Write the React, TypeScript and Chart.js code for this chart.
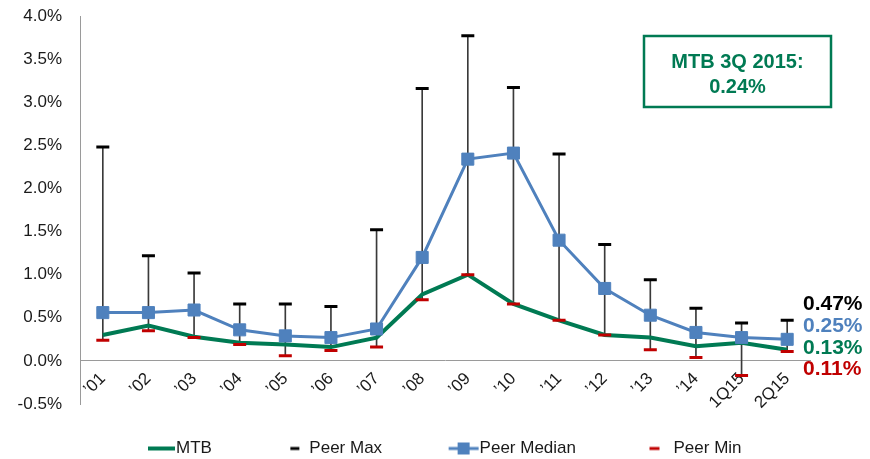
import React, { useEffect, useRef } from "react";
import { Chart, registerables } from "chart.js";

Chart.register(...registerables);

const categories = ["’01", "’02", "’03", "’04", "’05", "’06", "’07", "’08", "’09", "’10", "’11", "’12", "’13", "’14", "1Q15", "2Q15"];
const mtb = [0.30, 0.41, 0.28, 0.21, 0.19, 0.16, 0.27, 0.77, 1.00, 0.66, 0.47, 0.30, 0.27, 0.17, 0.21, 0.13];
const peerMax = [2.48, 1.22, 1.02, 0.66, 0.66, 0.63, 1.52, 3.16, 3.77, 3.17, 2.40, 1.35, 0.94, 0.61, 0.44, 0.47];
const peerMedian = [0.56, 0.56, 0.59, 0.36, 0.29, 0.27, 0.37, 1.20, 2.34, 2.41, 1.40, 0.84, 0.53, 0.33, 0.27, 0.25];
const peerMin = [0.24, 0.35, 0.27, 0.19, 0.06, 0.12, 0.16, 0.71, 1.00, 0.66, 0.47, 0.30, 0.13, 0.04, -0.17, 0.11];
const yMin = -0.5;
const yMax = 4.0;
const yStep = 0.5;
const calloutLines = ["MTB 3Q 2015:", "0.24%"];

const GREEN = "#007A53";
const BLUE = "#4F81BD";
const RED = "#C00000";
const BLACK = "#000000";
const AXIS = "#9a9a9a";
const TEXT = "#1a1a1a";
const FONT = "'Liberation Sans', Arial, Helvetica, sans-serif";

const LEGEND_FONT = 17;
const LEGEND_BOX = 53;

function makeIcon(draw: (ctx: CanvasRenderingContext2D, w: number, h: number) => void) {
  const c = document.createElement("canvas");
  c.width = LEGEND_BOX + LEGEND_FONT;
  c.height = 20;
  const ctx = c.getContext("2d")!;
  draw(ctx, c.width, c.height);
  return c;
}

export default function App() {
  const ref = useRef<HTMLCanvasElement | null>(null);

  useEffect(() => {
    if (!ref.current) return;

    const mtbIcon = makeIcon((ctx, w, h) => {
      ctx.fillStyle = GREEN;
      ctx.fillRect(w - 28, h / 2 - 2, 27, 4);
    });
    const maxIcon = makeIcon((ctx, w, h) => {
      ctx.fillStyle = BLACK;
      ctx.fillRect(w - 19, h / 2 - 1.5, 9, 3);
    });
    const medIcon = makeIcon((ctx, w, h) => {
      ctx.fillStyle = BLUE;
      ctx.fillRect(w - 31, h / 2 - 1.5, 30, 3);
      ctx.fillRect(w - 22, h / 2 - 6, 12, 12);
    });
    const minIcon = makeIcon((ctx, w, h) => {
      ctx.fillStyle = RED;
      ctx.fillRect(w - 24, h / 2 - 1.5, 10, 3);
    });

    const rightLabels = {
      id: "rightLabels",
      afterDraw(chart: any) {
        const { ctx, chartArea, scales } = chart;
        const y = scales.y;
        const last = categories.length - 1;
        const items: [number, string][] = [
          [peerMax[last], BLACK],
          [peerMedian[last], BLUE],
          [mtb[last], GREEN],
          [peerMin[last], RED],
        ];
        const x = chartArea.right - 7;
        const base = y.getPixelForValue(peerMax[last]) - 10;
        ctx.save();
        ctx.font = `bold 21px ${FONT}`;
        ctx.textAlign = "left";
        ctx.textBaseline = "alphabetic";
        items.forEach(([v, c], i) => {
          ctx.fillStyle = c;
          ctx.fillText(v.toFixed(2) + "%", x, base + i * 21.7);
        });
        ctx.restore();
      },
    };

    const callout = {
      id: "callout",
      afterDraw(chart: any) {
        const { ctx, chartArea } = chart;
        const bx = chartArea.right - 166;
        const by = chartArea.top + 20;
        const bw = 187;
        const bh = 71;
        ctx.save();
        ctx.fillStyle = "#ffffff";
        ctx.fillRect(bx, by, bw, bh);
        ctx.strokeStyle = GREEN;
        ctx.lineWidth = 2.5;
        ctx.strokeRect(bx, by, bw, bh);
        ctx.fillStyle = GREEN;
        ctx.font = `bold 20px ${FONT}`;
        ctx.textAlign = "center";
        ctx.textBaseline = "alphabetic";
        ctx.fillText(calloutLines[0], bx + bw / 2, by + 32);
        ctx.fillText(calloutLines[1], bx + bw / 2, by + 57);
        ctx.restore();
      },
    };

    const legendShift = {
      id: "legendShift",
      afterLayout(chart: any) {
        const l = chart.legend;
        if (l) {
          l.left += 23;
          l.right += 23;
        }
      },
    };

    const chart = new Chart(ref.current, {
      type: "line",
      data: {
        labels: categories,
        datasets: [
          {
            type: "line",
            label: "MTB",
            data: mtb,
            borderColor: GREEN,
            backgroundColor: GREEN,
            borderWidth: 4,
            pointRadius: 0,
            tension: 0,
            order: 4,
          } as any,
          {
            type: "line",
            label: "Peer Max",
            data: peerMax,
            showLine: false,
            pointStyle: "line",
            pointRadius: 6.5,
            pointBorderWidth: 3,
            pointBorderColor: BLACK,
            borderColor: BLACK,
            backgroundColor: BLACK,
            order: 1,
          } as any,
          {
            type: "line",
            label: "Peer Median",
            data: peerMedian,
            borderColor: BLUE,
            backgroundColor: BLUE,
            borderWidth: 3,
            pointStyle: "rect",
            pointRadius: 8.5,
            pointBorderWidth: 1,
            pointBorderColor: BLUE,
            pointBackgroundColor: BLUE,
            tension: 0,
            order: 3,
          } as any,
          {
            type: "line",
            label: "Peer Min",
            data: peerMin,
            showLine: false,
            pointStyle: "line",
            pointRadius: 6.5,
            pointBorderWidth: 3,
            pointBorderColor: RED,
            borderColor: RED,
            backgroundColor: RED,
            order: 2,
          } as any,
          {
            type: "bar",
            label: "Range",
            data: peerMin.map((v, i) => [v, peerMax[i]]),
            backgroundColor: "#3a3a3a",
            borderWidth: 0,
            barThickness: 1,
            grouped: false,
            order: 10,
          } as any,
        ],
      },
      options: {
        animation: false,
        responsive: false,
        maintainAspectRatio: false,
        layout: { padding: { top: 16, right: 60, bottom: -8, left: 0 } },
        scales: {
          x: {
            type: "category",
            offset: true,
            position: { y: 0 } as any,
            grid: { display: false, drawTicks: false },
            border: { display: true, color: AXIS, width: 1 },
            ticks: {
              autoSkip: false,
              maxRotation: 45,
              minRotation: 45,
              padding: 8,
              color: TEXT,
              font: { family: FONT, size: 17 },
            },
          },
          y: {
            min: yMin,
            max: yMax,
            grid: { display: false, drawTicks: false },
            border: { display: true, color: AXIS, width: 1 },
            ticks: {
              stepSize: yStep,
              padding: 18,
              color: TEXT,
              font: { family: FONT, size: 17 },
              callback: (v: any) => Number(v).toFixed(1) + "%",
            },
            afterFit: (s: any) => {
              s.width = 80;
              s.paddingTop = 0;
              s.paddingBottom = 0;
            },
          },
        },
        plugins: {
          tooltip: { enabled: false },
          title: { display: false },
          legend: {
            display: true,
            position: "bottom",
            align: "center",
            labels: {
              usePointStyle: true,
              pointStyleWidth: LEGEND_BOX,
              padding: 36,
              color: TEXT,
              font: { family: FONT, size: LEGEND_FONT },
              generateLabels: () => [
                { text: "MTB", pointStyle: mtbIcon, datasetIndex: 0, fillStyle: GREEN, strokeStyle: GREEN, lineWidth: 0, hidden: false, fontColor: TEXT },
                { text: "Peer Max", pointStyle: maxIcon, datasetIndex: 1, fillStyle: BLACK, strokeStyle: BLACK, lineWidth: 0, hidden: false, fontColor: TEXT },
                { text: "Peer Median", pointStyle: medIcon, datasetIndex: 2, fillStyle: BLUE, strokeStyle: BLUE, lineWidth: 0, hidden: false, fontColor: TEXT },
                { text: "Peer Min", pointStyle: minIcon, datasetIndex: 3, fillStyle: RED, strokeStyle: RED, lineWidth: 0, hidden: false, fontColor: TEXT },
              ] as any,
            },
          },
        },
      },
      plugins: [legendShift, rightLabels, callout],
    } as any);

    return () => chart.destroy();
  }, []);

  return (
    <div style={{ position: "absolute", left: 0, top: 0, width: 870, height: 459, background: "#fff" }}>
      <canvas ref={ref} width={870} height={459} style={{ display: "block" }} />
    </div>
  );
}
